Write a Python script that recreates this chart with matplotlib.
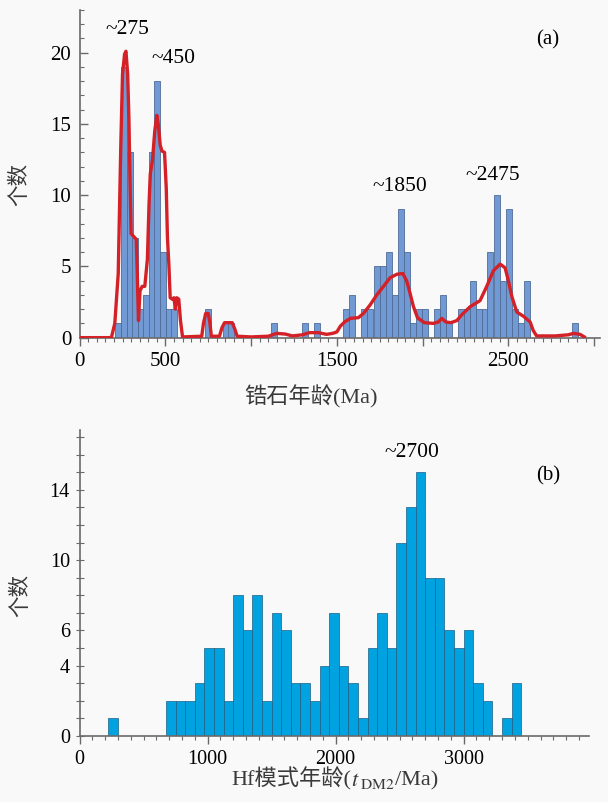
import numpy as np
import matplotlib
matplotlib.use('Agg')
import matplotlib.pyplot as plt
from matplotlib.ticker import MultipleLocator, FixedLocator
from matplotlib.offsetbox import TextArea, HPacker, AnnotationBbox

plt.rcParams['font.family'] = ['Liberation Serif', 'Noto Sans CJK SC']
plt.rcParams['mathtext.fontset'] = 'stix'

# (a) zircon U-Pb ages: bin left edges (Ma) and counts
zircon_left = [207, 240, 275, 308, 339, 372, 405, 436, 469, 502, 534,
               732, 835, 868, 1116, 1295, 1367, 1538, 1573,
               1641, 1678, 1715, 1750, 1785, 1822, 1857, 1892, 1929, 1962, 1997,
               2069, 2102, 2139, 2209, 2244, 2277, 2314, 2345, 2378, 2417, 2452,
               2487, 2522, 2559, 2594, 2870]
zircon_count = [1, 19, 13, 7, 2, 3, 13, 18, 6, 2, 2,
                2, 1, 1, 1, 1, 1, 2, 3,
                2, 2, 5, 5, 6, 3, 9, 6, 1, 2, 2,
                2, 3, 1, 2, 2, 4, 2, 2, 6, 10, 4,
                9, 2, 1, 4, 1]

# (a) probability density curve
kde_age = [0, 185, 205, 225, 240, 250, 262, 270, 280, 287, 293, 300, 315, 330,
           336, 343, 352, 365, 380, 395, 405, 412, 425, 438, 450, 460, 470, 480,
           495, 505, 512, 520, 528, 540, 550, 558, 566, 578, 588, 600,
           712, 722, 735, 750, 760, 768, 815, 830, 845, 890, 905, 918,
           1000, 1100, 1150, 1200, 1240, 1300, 1340, 1392, 1440, 1475, 1500,
           1520, 1545, 1580, 1625, 1655, 1694, 1733, 1772, 1810, 1850, 1885,
           1908, 1927, 1946, 1970, 2010, 2063, 2092, 2112, 2135, 2165, 2200,
           2228, 2277, 2335, 2374, 2413, 2452, 2481, 2500, 2520, 2549, 2588,
           2627, 2645, 2665, 2773, 2850, 2879, 2918, 2943]
kde_val = [0, 0, 1.0, 4.5, 13.5, 18.5, 19.9, 20.1, 18.5, 15.5, 11.5, 7.3, 7.1, 6.9,
           4.5, 1.2, 3.3, 3.6, 3.6, 5.5, 9.5, 11.5, 12.5, 14.5, 15.6, 14.8, 13.5, 13.1,
           13.0, 10.5, 7.0, 5.2, 2.8, 2.7, 2.8, 2.0, 2.8, 2.7, 1.2, 0.05,
           0.1, 1.0, 1.7, 1.7, 1.0, 0.1, 0.1, 0.7, 1.05, 1.05, 0.6, 0.1,
           0.05, 0.1, 0.3, 0.25, 0.12, 0.2, 0.35, 0.35, 0.23, 0.3, 0.4,
           0.8, 1.1, 1.36, 1.4, 1.7, 2.3, 3.0, 3.6, 4.2, 4.45, 4.5,
           3.95, 3.1, 2.2, 1.4, 1.05, 1.0, 1.1, 1.35, 1.1, 1.05, 1.2,
           1.6, 2.17, 2.6, 3.6, 4.7, 5.16, 4.9, 4.0, 2.9, 1.8, 1.5,
           1.1, 0.5, 0.12, 0.12, 0.2, 0.3, 0.23, 0.05]

peak_a_labels = ['~275', '~450', '~1850', '~2475']
peak_a_x = [277, 545, 1869, 2411]
peak_a_y = [21.6, 19.6, 10.6, 11.4]

# (b) Hf model ages: bin left edges (Ma) and counts
hf_left = [225, 675, 750, 825, 900, 975, 1050, 1125, 1200, 1275, 1350, 1425,
           1500, 1575, 1650, 1725, 1800, 1875, 1950, 2025, 2100, 2175, 2250,
           2325, 2400, 2475, 2550, 2625, 2700, 2775, 2850, 2925, 3000, 3075,
           3150, 3300, 3375]
hf_count = [1, 2, 2, 2, 3, 5, 5, 2, 8, 6, 8, 2,
            7, 6, 3, 3, 2, 4, 7, 4, 3, 1, 5,
            7, 5, 11, 13, 15, 9, 9, 6, 5, 6, 3,
            2, 1, 3]

bg = '#f9f9f9'
spine_c = '#6a6a6a'
label_c = '#3a3a3a'

fig = plt.figure(figsize=(6.08, 8.02), dpi=100, facecolor=bg)

# ---------- (a) ----------
ax1 = fig.add_axes([0.131, 0.579, 0.856, 0.4086], facecolor=bg)
ax1.bar(zircon_left, zircon_count, width=34, align='edge',
        color='#7199d3', edgecolor='#4f6c98', linewidth=0.6, zorder=2)
ax1.plot(kde_age, kde_val, color='#d42027', lw=2.4, solid_joinstyle='round', zorder=3)
for t, x, y in zip(peak_a_labels, peak_a_x, peak_a_y):
    ax1.text(x, y, t, ha='center', va='center', fontsize=15.5)
ax1.text(2732, 20.9, '(a)', ha='center', va='center', fontsize=15)

ax1.set_xlim(0, 3035)
ax1.set_ylim(0, 23)
ax1.xaxis.set_major_locator(FixedLocator([0, 500, 1000, 1500, 2000, 2500, 3000]))
ax1.set_xticklabels(['0', '500', '', '1500', '', '2500', ''])
ax1.xaxis.set_minor_locator(MultipleLocator(50))
ax1.yaxis.set_major_locator(MultipleLocator(5))
ax1.yaxis.set_minor_locator(MultipleLocator(1))
ax1.tick_params(axis='x', which='major', direction='out', length=6, width=1,
                color=spine_c, labelsize=15, pad=4)
ax1.tick_params(axis='x', which='minor', direction='out', length=3, width=0.8, color=spine_c)
ax1.tick_params(axis='y', which='major', direction='in', length=6, width=1,
                color=spine_c, labelsize=15, pad=6)
ax1.tick_params(axis='y', which='minor', direction='in', length=3, width=0.8, color=spine_c)
ax1.set_xlabel('锆石年龄(Ma)', fontsize=16, color=label_c)
ax1.xaxis.set_label_coords(0.445, -0.145)
ax1.set_ylabel('个数', fontsize=15.5, color=label_c)
ax1.yaxis.set_label_coords(-0.095, 0.466)

# ---------- (b) ----------
ax2 = fig.add_axes([0.131, 0.0823, 0.838, 0.3815], facecolor=bg)
ax2.bar(hf_left, hf_count, width=75, align='edge',
        color='#00a3e0', edgecolor='#1d5f86', linewidth=0.5, zorder=2)
ax2.text(2598, 16.1, '~2700', ha='center', va='center', fontsize=15.5)
ax2.text(3660, 14.8, '(b)', ha='center', va='center', fontsize=15)

ax2.set_xlim(0, 3980)
ax2.set_ylim(0, 17.4)
ax2.xaxis.set_major_locator(MultipleLocator(1000))
ax2.xaxis.set_minor_locator(MultipleLocator(100))
ax2.yaxis.set_major_locator(FixedLocator([0, 4, 6, 10, 14]))
ax2.yaxis.set_minor_locator(MultipleLocator(1))
ax2.tick_params(axis='x', which='major', direction='out', length=6, width=1,
                color=spine_c, labelsize=14.5, pad=4)
ax2.tick_params(axis='x', which='minor', direction='out', length=3, width=0.8, color=spine_c)
ax2.tick_params(axis='y', which='both', direction='inout', length=6, width=0.8,
                color=spine_c, labelsize=14.5, pad=4)
ax2.set_ylabel('个数', fontsize=15.5, color=label_c)
ax2.yaxis.set_label_coords(-0.095, 0.46)

# x label with italic t and subscript DM2
fam = ['Liberation Serif', 'Noto Sans CJK SC']
parts = [
    TextArea('Hf模式年龄(', textprops=dict(family=fam, size=16, color=label_c)),
    TextArea(r'$t_{\;\mathrm{DM2}}$', textprops=dict(size=16, color=label_c)),
    TextArea('/Ma)', textprops=dict(family=fam, size=16, color=label_c)),
]
pack = HPacker(children=parts, align='baseline', pad=0, sep=0)
ab = AnnotationBbox(pack, (0.5, -0.14), xycoords='axes fraction',
                    box_alignment=(0.5, 0.5), frameon=False)
ax2.add_artist(ab)

for ax in (ax1, ax2):
    ax.spines['top'].set_visible(False)
    ax.spines['right'].set_visible(False)
    for s in ('left', 'bottom'):
        ax.spines[s].set_color(spine_c)
        ax.spines[s].set_linewidth(1.2)
    ax.set_axisbelow(False)

fig.savefig('out.png', dpi=100, facecolor=bg)
